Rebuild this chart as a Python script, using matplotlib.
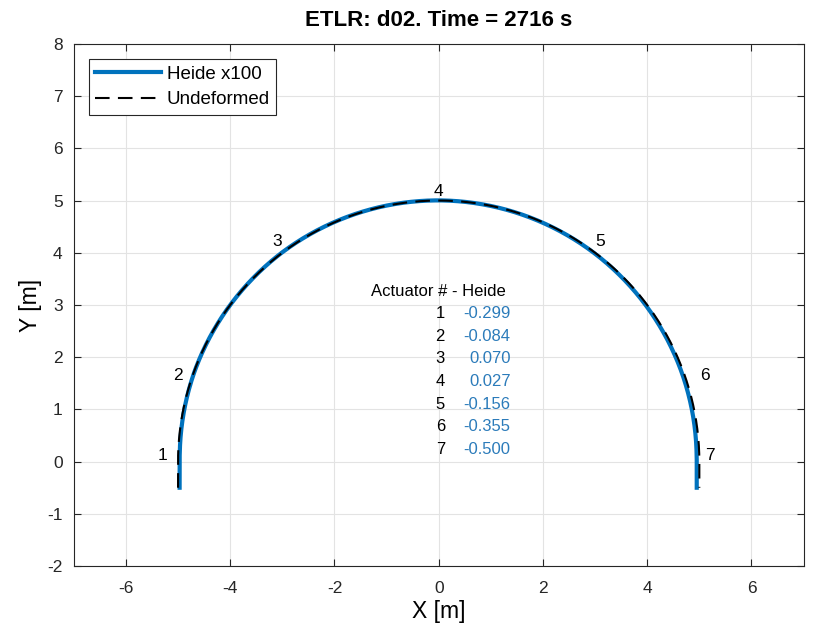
import numpy as np
import matplotlib.pyplot as plt

plt.rcParams['font.family'] = ['Liberation Sans', 'DejaVu Sans']
plt.rcParams['axes.unicode_minus'] = False

# tunnel geometry (m)
radius = 5.0
wall_bottom = -0.5

# actuators: angle on the arch (deg) and Heide reading (mm)
act_ids = [1, 2, 3, 4, 5, 6, 7]
act_angles = [178, 160, 127, 90, 53, 20, 2]
heide = [-0.299, -0.084, 0.070, 0.027, -0.156, -0.355, -0.500]
scale = 100  # exaggeration

# label positions next to the arch
lbl_x = [-5.29, -5.0, -3.09, 0.0, 3.09, 5.1, 5.2]
lbl_y = [0.11, 1.65, 4.21, 5.17, 4.21, 1.65, 0.12]

# undeformed outline: left wall, arch, right wall
th = np.linspace(np.pi, 0, 400)
ux = np.concatenate([[-radius], radius * np.cos(th), [radius]])
uy = np.concatenate([[wall_bottom], radius * np.sin(th), [wall_bottom]])

# deformed outline from the readings (mm -> m, x100)
order = np.argsort(act_angles)
dr = np.interp(np.degrees(th), np.array(act_angles)[order],
               np.array(heide)[order]) * scale / 1000
rd = radius + dr
dx = np.concatenate([[-rd[0]], rd * np.cos(th), [rd[-1]]])
dy = np.concatenate([[wall_bottom], rd * np.sin(th), [wall_bottom]])

fig = plt.figure(figsize=(8.2, 6.36), dpi=100)
ax = fig.add_axes([0.090, 0.110, 0.890, 0.821])

ax.plot(dx, dy, color='#0072BD', lw=3, label='Heide x100')
ax.plot(ux, uy, color='black', lw=1.5, ls=(0, (7, 4)), label='Undeformed')

for i, x, y in zip(act_ids, lbl_x, lbl_y):
    ax.text(x, y, str(i), fontsize=12.5, ha='center', va='center')

ax.text(0, 3.26, 'Actuator # - Heide', fontsize=12, ha='center', va='center')
for k, (i, v) in enumerate(zip(act_ids, heide)):
    y = 2.84 - 0.435 * k
    ax.text(0.12, y, str(i), fontsize=12, ha='right', va='center')
    ax.text(1.38, y, f'{v:.3f}', fontsize=12, ha='right', va='center',
            color='#2b7bba')

ax.set_xlim(-7, 7)
ax.set_ylim(-2, 8)
ax.set_xticks(range(-6, 7, 2))
ax.set_yticks(range(-2, 9))
ax.grid(True, color='#e3e3e3', lw=0.8)
ax.set_axisbelow(True)
ax.tick_params(direction='in', top=True, right=True, labelsize=12.5, length=5,
               colors='#262626')
ax.tick_params(axis='x', pad=11)
ax.tick_params(axis='y', pad=8)
for s in ax.spines.values():
    s.set_color('#262626')
    s.set_linewidth(0.8)

ax.set_xlabel('X [m]', fontsize=16.5, labelpad=3)
ax.set_ylabel('Y [m]', fontsize=16.5, labelpad=4)
ax.set_title('ETLR: d02. Time = 2716 s', fontsize=16, fontweight='bold', pad=13)

leg = ax.legend(loc='upper left', fontsize=13.5, fancybox=False, framealpha=1,
                edgecolor='#262626', handlelength=3.5, borderaxespad=0.8,
                handletextpad=0.3, labelspacing=0.45, borderpad=0.35)
leg.get_frame().set_linewidth(0.8)

fig.savefig('out.png', dpi=100)
